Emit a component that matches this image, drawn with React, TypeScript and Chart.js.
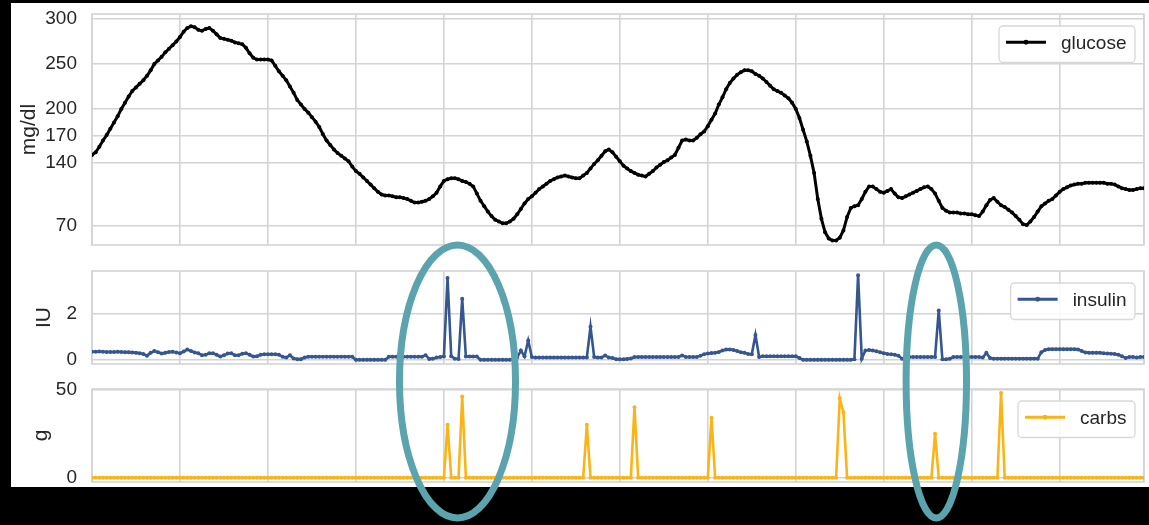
import React, { useEffect, useRef } from "react";
import { Chart, registerables } from "chart.js";

Chart.register(...registerables);

// 5-minute samples over 24 hours (index of each reading)
const SAMPLE_COUNT = 288;
const samples: number[] = Array.from({ length: SAMPLE_COUNT }, (_, i) => i);
// vertical grid every 2 hours (24 samples)
const X_GRID_STEP = 24;

const glucose: number[] = [
  149, 152, 158, 165, 171, 178, 185, 192, 200, 207, 214, 220,
  224, 228, 232, 237, 243, 250, 254, 258, 263, 267, 271, 275,
  280, 286, 290, 292, 291, 288, 287, 289, 290, 287, 283, 279,
  278, 277, 276, 274, 273, 272, 268, 262, 257, 255, 255, 255,
  255, 254, 248, 242, 237, 232, 225, 218, 210, 205, 200, 196,
  191, 186, 180, 172, 165, 160, 155, 151, 148, 145, 142, 136,
  131, 128, 124, 120, 116, 112, 108, 105, 104, 104, 103, 102,
  102, 101, 100, 98, 96, 96, 97, 98, 100, 103, 107, 114,
  120, 122, 123, 123, 122, 120, 119, 117, 114, 106, 98, 92,
  86, 81, 77, 75, 73, 73, 75, 78, 83, 89, 95, 100,
  103, 107, 111, 114, 117, 120, 122, 124, 125, 126, 125, 124,
  123, 123, 126, 129, 134, 139, 143, 148, 153, 155, 152, 147,
  142, 137, 134, 131, 129, 127, 126, 125, 128, 131, 135, 138,
  141, 143, 146, 149, 157, 165, 166, 165, 165, 168, 172, 175,
  181, 188, 195, 205, 213, 222, 229, 234, 238, 241, 243, 243,
  242, 239, 237, 234, 230, 226, 222, 220, 218, 215, 212, 207,
  200, 190, 177, 164, 148, 129, 100, 78, 63, 56, 54, 54,
  57, 65, 80, 90, 92, 93, 100, 108, 114, 114, 111, 108,
  107, 109, 111, 106, 102, 101, 103, 105, 107, 109, 111, 113,
  114, 111, 106, 98, 90, 87, 85, 85, 85, 84, 84, 83,
  83, 82, 81, 86, 93, 99, 101, 97, 93, 91, 88, 85,
  81, 77, 72, 71, 75, 80, 86, 92, 95, 98, 100, 104,
  108, 111, 113, 115, 116, 117, 117, 118, 118, 118, 118, 118,
  118, 117, 117, 116, 114, 112, 111, 110, 110, 111, 112, 112,
];

const insulin: number[] = [
  0.35, 0.35, 0.36, 0.35, 0.34, 0.34, 0.34, 0.35, 0.34, 0.33, 0.33, 0.32,
  0.30, 0.28, 0.25, 0.18, 0.30, 0.38, 0.33, 0.27, 0.30, 0.34, 0.35, 0.32,
  0.28, 0.36, 0.44, 0.38, 0.32, 0.28, 0.20, 0.22, 0.28, 0.28, 0.22, 0.14,
  0.20, 0.27, 0.28, 0.20, 0.20, 0.26, 0.28, 0.22, 0.14, 0.15, 0.22, 0.24,
  0.24, 0.24, 0.24, 0.22, 0.13, 0.10, 0.20, 0.06, 0.03, 0.03, 0.10, 0.13,
  0.13, 0.13, 0.13, 0.13, 0.13, 0.13, 0.13, 0.13, 0.13, 0.13, 0.13, 0.13,
  0, 0, 0, 0, 0, 0, 0, 0, 0, 0.13, 0.13, 0.13,
  0.13, 0.13, 0.13, 0.13, 0.13, 0.13, 0.13, 0.20, 0.04, 0.05, 0.10, 0.12,
  0.14, 3.53, 0.15, 0.05, 0.04, 2.63, 0.14, 0.14, 0.14, 0.14, 0, 0,
  0, 0, 0, 0, 0, 0, 0, 0.05, 0.10, 0.40, 0.15, 0.83,
  0.12, 0.10, 0.10, 0.10, 0.10, 0.10, 0.10, 0.10, 0.10, 0.10, 0.10, 0.10,
  0.10, 0.10, 0.10, 0.10, 1.43, 0.12, 0.10, 0.10, 0.19, 0.10, 0.08, 0.03,
  0.02, 0.02, 0.04, 0.06, 0.12, 0.12, 0.12, 0.12, 0.12, 0.12, 0.12, 0.12,
  0.12, 0.12, 0.12, 0.12, 0.12, 0.19, 0.12, 0.12, 0.12, 0.12, 0.18, 0.24,
  0.27, 0.29, 0.30, 0.34, 0.40, 0.44, 0.45, 0.42, 0.38, 0.33, 0.30, 0.25,
  0.24, 1.07, 0.12, 0.15, 0.15, 0.15, 0.15, 0.15, 0.15, 0.15, 0.15, 0.15,
  0.15, 0.08, 0, 0, 0, 0, 0, 0, 0, 0, 0, 0,
  0, 0, 0, 0, 0.02, 3.65, 0.05, 0.40, 0.42, 0.40, 0.37, 0.33,
  0.28, 0.25, 0.24, 0.22, 0.18, 0.05, 0.12, 0.12, 0.12, 0.12, 0.12, 0.12,
  0.12, 0.12, 0.12, 2.13, 0.02, 0.02, 0.05, 0.12, 0.12, 0.12, 0.12, 0.12,
  0.12, 0.12, 0.12, 0.10, 0.30, 0.08, 0.05, 0.05, 0.05, 0.05, 0.05, 0.05,
  0.05, 0.05, 0.05, 0.05, 0.05, 0.05, 0.05, 0.33, 0.42, 0.46, 0.46, 0.46,
  0.46, 0.46, 0.46, 0.46, 0.46, 0.45, 0.38, 0.32, 0.30, 0.30, 0.30, 0.30,
  0.28, 0.27, 0.26, 0.25, 0.22, 0.15, 0.08, 0.12, 0.12, 0.10, 0.12, 0.12,
];

const carbs: number[] = [
  0, 0, 0, 0, 0, 0, 0, 0, 0, 0, 0, 0, 0, 0, 0, 0, 0, 0, 0, 0, 0, 0, 0, 0,
  0, 0, 0, 0, 0, 0, 0, 0, 0, 0, 0, 0, 0, 0, 0, 0, 0, 0, 0, 0, 0, 0, 0, 0,
  0, 0, 0, 0, 0, 0, 0, 0, 0, 0, 0, 0, 0, 0, 0, 0, 0, 0, 0, 0, 0, 0, 0, 0,
  0, 0, 0, 0, 0, 0, 0, 0, 0, 0, 0, 0, 0, 0, 0, 0, 0, 0, 0, 0, 0, 0, 0, 0,
  0, 30, 0, 0, 0, 46, 0, 0, 0, 0, 0, 0, 0, 0, 0, 0, 0, 0, 0, 0, 0, 0, 0, 0,
  0, 0, 0, 0, 0, 0, 0, 0, 0, 0, 0, 0, 0, 0, 0, 30, 0, 0, 0, 0, 0, 0, 0, 0,
  0, 0, 0, 0, 40, 0, 0, 0, 0, 0, 0, 0, 0, 0, 0, 0, 0, 0, 0, 0, 0, 0, 0, 0,
  0, 34, 0, 0, 0, 0, 0, 0, 0, 0, 0, 0, 0, 0, 0, 0, 0, 0, 0, 0, 0, 0, 0, 0,
  0, 0, 0, 0, 0, 0, 0, 0, 0, 0, 0, 0, 45, 37, 0, 0, 0, 0, 0, 0, 0, 0, 0, 0,
  0, 0, 0, 0, 0, 0, 0, 0, 0, 0, 0, 0, 0, 0, 25, 0, 0, 0, 0, 0, 0, 0, 0, 0,
  0, 0, 0, 0, 0, 0, 0, 0, 48, 0, 0, 0, 0, 0, 0, 0, 0, 0, 0, 0, 0, 0, 0, 0,
  0, 0, 0, 0, 0, 0, 0, 0, 0, 0, 0, 0, 0, 0, 0, 0, 0, 0, 0, 0, 0, 0, 0, 0,
];

const glucoseTicks = [70, 140, 170, 200, 250, 300];
const insulinTicks = [0, 2];
const carbsTicks = [0, 50];

const FONT = '"Liberation Sans", Arial, Helvetica, sans-serif';
const GRID = "#d4d4d4";
const TEXT = "#262626";
const TEAL = "#5ba3ad";

const framePlugin = {
  id: "mplFrame",
  beforeDatasetsDraw(chart: any) {
    const { ctx, chartArea: a } = chart;
    ctx.save();
    ctx.strokeStyle = GRID;
    ctx.lineWidth = 1.6;
    ctx.strokeRect(a.left, a.top, a.right - a.left, a.bottom - a.top);
    ctx.restore();
  },
};

const legendPlugin = {
  id: "mplLegend",
  afterDatasetsDraw(chart: any) {
    const ds = chart.data.datasets[0];
    const { ctx, chartArea: a } = chart;
    ctx.save();
    ctx.font = `19px ${FONT}`;
    const tw = ctx.measureText(ds.label).width;
    const h = 36.5;
    const right = a.right - 9;
    const top = a.top + 12;
    const w = 7 + 40 + 15 + tw + 8.5;
    const left = right - w;
    const r = 4;
    ctx.beginPath();
    ctx.moveTo(left + r, top);
    ctx.lineTo(right - r, top);
    ctx.arcTo(right, top, right, top + r, r);
    ctx.lineTo(right, top + h - r);
    ctx.arcTo(right, top + h, right - r, top + h, r);
    ctx.lineTo(left + r, top + h);
    ctx.arcTo(left, top + h, left, top + h - r, r);
    ctx.lineTo(left, top + r);
    ctx.arcTo(left, top, left + r, top, r);
    ctx.closePath();
    ctx.fillStyle = "rgba(255,255,255,0.85)";
    ctx.fill();
    ctx.strokeStyle = "#d8d8d8";
    ctx.lineWidth = 1.3;
    ctx.stroke();
    const ly = top + h / 2 - 2;
    ctx.strokeStyle = ds.borderColor;
    ctx.lineWidth = 2.8;
    ctx.beginPath();
    ctx.moveTo(left + 7, ly);
    ctx.lineTo(left + 47, ly);
    ctx.stroke();
    ctx.fillStyle = ds.borderColor;
    ctx.beginPath();
    ctx.arc(left + 27, ly, 2.4, 0, Math.PI * 2);
    ctx.fill();
    ctx.fillStyle = TEXT;
    ctx.textBaseline = "middle";
    ctx.textAlign = "left";
    ctx.fillText(ds.label, left + 62, top + h / 2);
    ctx.restore();
  },
};

type PanelSpec = {
  label: string;
  values: number[];
  color: string;
  yMin: number;
  yMax: number;
  ticks: number[];
  title: string;
  titlePad: number;
  lineWidth: number;
  pointRadius: number;
  padTop: number;
  padBottom: number;
};

function makeConfig(p: PanelSpec): any {
  return {
    type: "line",
    data: {
      datasets: [
        {
          label: p.label,
          data: samples.map((t, i) => ({ x: t, y: p.values[i] })),
          borderColor: p.color,
          backgroundColor: p.color,
          pointBackgroundColor: p.color,
          pointBorderWidth: 0,
          pointRadius: p.pointRadius,
          borderWidth: p.lineWidth,
          tension: 0,
          fill: false,
        },
      ],
    },
    options: {
      animation: false,
      responsive: false,
      maintainAspectRatio: false,
      layout: { padding: { left: 0, right: 5, top: p.padTop, bottom: p.padBottom } },
      plugins: { legend: { display: false }, tooltip: { enabled: false } },
      scales: {
        x: {
          type: "linear",
          min: 0,
          max: SAMPLE_COUNT - 1,
          ticks: { display: false, stepSize: X_GRID_STEP },
          grid: { color: GRID, lineWidth: 1.6, drawTicks: false },
          border: { display: false },
          afterFit: (s: any) => {
            s.height = 0;
            s.paddingLeft = 0;
            s.paddingRight = 0;
            s.paddingTop = 0;
            s.paddingBottom = 0;
          },
        },
        y: {
          type: "linear",
          min: p.yMin,
          max: p.yMax,
          afterBuildTicks: (s: any) => {
            s.ticks = p.ticks.map((v) => ({ value: v }));
          },
          afterFit: (s: any) => {
            s.width = 81;
            s.paddingTop = 0;
            s.paddingBottom = 0;
            s.paddingLeft = 0;
            s.paddingRight = 0;
          },
          ticks: {
            color: TEXT,
            font: { family: FONT, size: 19 },
            padding: 15,
            callback: (v: any) => String(v),
          },
          grid: { color: GRID, lineWidth: 1.6, drawTicks: false },
          border: { display: false },
          title: {
            display: true,
            text: p.title,
            color: TEXT,
            font: { family: FONT, size: 21 },
            padding: { top: p.titlePad, bottom: 0 },
          },
        },
      },
    },
    plugins: [framePlugin, legendPlugin],
  };
}

const panels: (PanelSpec & { top: number; height: number })[] = [
  {
    label: "glucose", values: glucose, color: "#000000", yMin: 48.9, yMax: 305.6,
    ticks: glucoseTicks, title: "mg/dl", titlePad: 6, lineWidth: 3, pointRadius: 2,
    padTop: 11, padBottom: 8, top: 3, height: 250,
  },
  {
    label: "insulin", values: insulin, color: "#35568f", yMin: -0.18, yMax: 3.83,
    ticks: insulinTicks, title: "IU", titlePad: 21, lineWidth: 2.6, pointRadius: 2,
    padTop: 8, padBottom: 4, top: 263, height: 105,
  },
  {
    label: "carbs", values: carbs, color: "#fbb417", yMin: -2.4, yMax: 50.3,
    ticks: carbsTicks, title: "g", titlePad: 18, lineWidth: 2.6, pointRadius: 2,
    padTop: 19, padBottom: 5, top: 370, height: 117,
  },
];

export default function App() {
  const refs = [useRef<HTMLCanvasElement>(null), useRef<HTMLCanvasElement>(null), useRef<HTMLCanvasElement>(null)];

  useEffect(() => {
    const charts = panels.map((p, i) => new Chart(refs[i].current as HTMLCanvasElement, makeConfig(p)));
    return () => charts.forEach((c) => c.destroy());
  }, []);

  return (
    <div
      style={{
        position: "fixed",
        left: 0,
        top: 0,
        width: 1149,
        height: 525,
        background: "#000",
        overflow: "hidden",
      }}
    >
      <div
        style={{ position: "absolute", left: 11, top: 3, width: 1138, height: 484, background: "#fff" }}
      />
      {panels.map((p, i) => (
        <canvas
          key={p.label}
          ref={refs[i]}
          width={1138}
          height={p.height}
          style={{ position: "absolute", left: 11, top: p.top, width: 1138, height: p.height }}
        />
      ))}
      <svg
        width={1149}
        height={525}
        style={{ position: "absolute", left: 0, top: 0, pointerEvents: "none" }}
      >
        <ellipse cx={457.5} cy={381.5} rx={58} ry={136.5} fill="none" stroke={TEAL} strokeWidth={7} />
        <ellipse cx={936.3} cy={381.5} rx={30.2} ry={136.5} fill="none" stroke={TEAL} strokeWidth={7} />
      </svg>
    </div>
  );
}
